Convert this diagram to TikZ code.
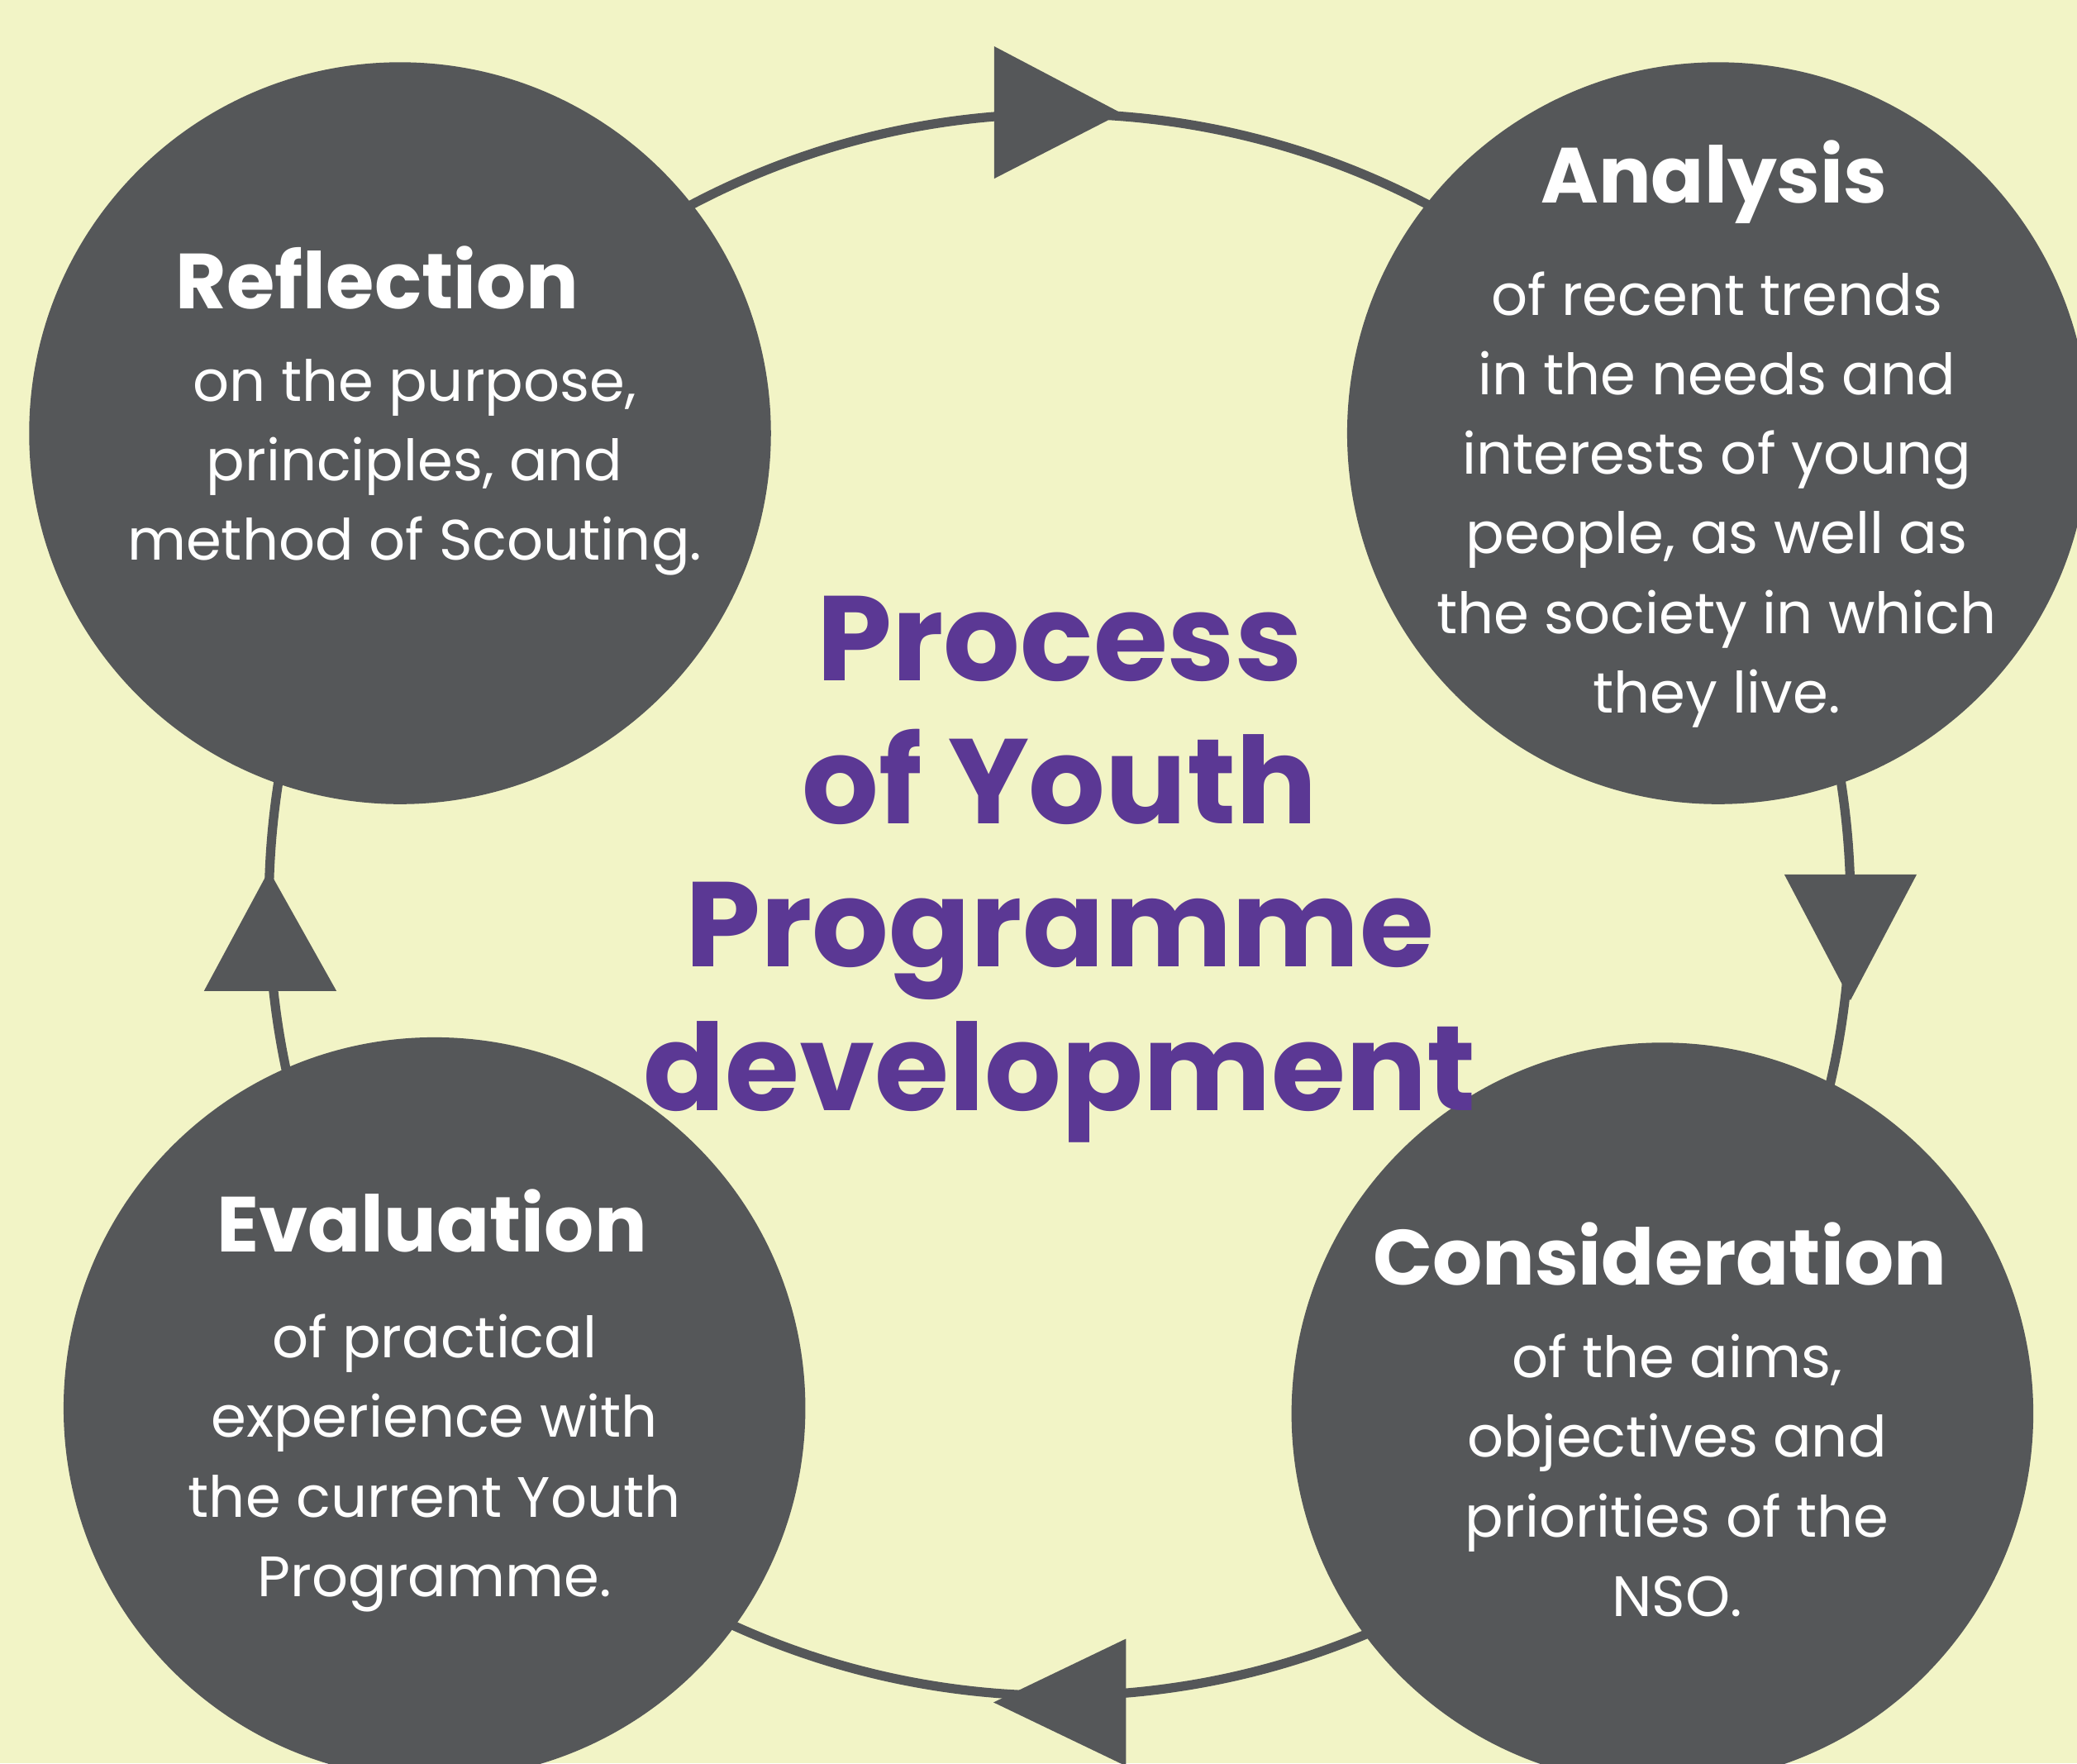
\documentclass[tikz,border=0pt]{standalone}
\usepackage{fontspec}
\setmainfont{Poppins}
\newfontfamily\bodyfont{Poppins}
\newfontfamily\headfont{Poppins}[UprightFont=* Bold]
\definecolor{bgc}{HTML}{F2F4C6}
\definecolor{disc}{HTML}{555759}
\definecolor{titlec}{HTML}{5B3894}
\tikzset{
  px/.style={x=0.5pt,y=-0.5pt},
  stage/.style={circle,fill=disc,minimum size=280pt,inner sep=0pt},
  ring/.style={draw=disc,line width=3.5pt},
  tip/.style={fill=disc},
  head/.style={text=white,font=\headfont\fontsize{29.5}{30}\selectfont,anchor=base,inner sep=0pt},
  body/.style={text=white,font=\bodyfont\fontsize{21.5}{30}\selectfont,align=center,anchor=base,inner sep=0pt},
  title/.style={text=titlec,font=\headfont\fontsize{45.5}{54}\selectfont,align=center,anchor=base,inner sep=0pt}
}
\begin{document}
\begin{tikzpicture}[px]
\fill[bgc] (0,0) rectangle (1568,1331);
\useasboundingbox (0,0) rectangle (1568,1331);
\coordinate (hub) at (800,683);
\draw[ring] (hub) circle[radius=298.5pt];
\node[stage] (refl) at (302,327) {};
\node[stage] (anal) at (1297,327) {};
\node[stage] (eval) at (328,1063) {};
\node[stage] (cons) at (1255,1067) {};
% arrowheads
\fill[tip] (750.6,35) -- (846.7,85.5) -- (750.6,134.8) -- cycle;
\fill[tip] (1347,660) -- (1447,660) -- (1397,755) -- cycle;
\fill[tip] (850,1237) -- (850,1333) -- (750,1285) -- cycle;
\fill[tip] (154,748) -- (254,748) -- (203,657) -- cycle;
% texts (base = baseline of last line)
\node[head] (reflh) at (285,233) {Reflection};
\node[body] (reflb) at (313,423) {on the purpose,\\principles, and\\method of Scouting.};
\node[head] (analh) at (1294,153) {Analysis};
\node[body] (analb) at (1296,538) {of recent trends\\in the needs and\\interests of young\\people, as well as\\the society in which\\they live.};
\node[head] (evalh) at (326,945) {Evaluation};
\node[body] (evalb) at (328,1205) {of practical\\experience with\\the current Youth\\Programme.};
\node[head] (consh) at (1253,970) {Consideration};
\node[body] (consb) at (1266,1220) {of the aims,\\objectives and\\priorities of the\\NSO.};
\node[title] (ttl) at (800,838) {Process\\of Youth\\Programme\\development};
\end{tikzpicture}
\end{document}
